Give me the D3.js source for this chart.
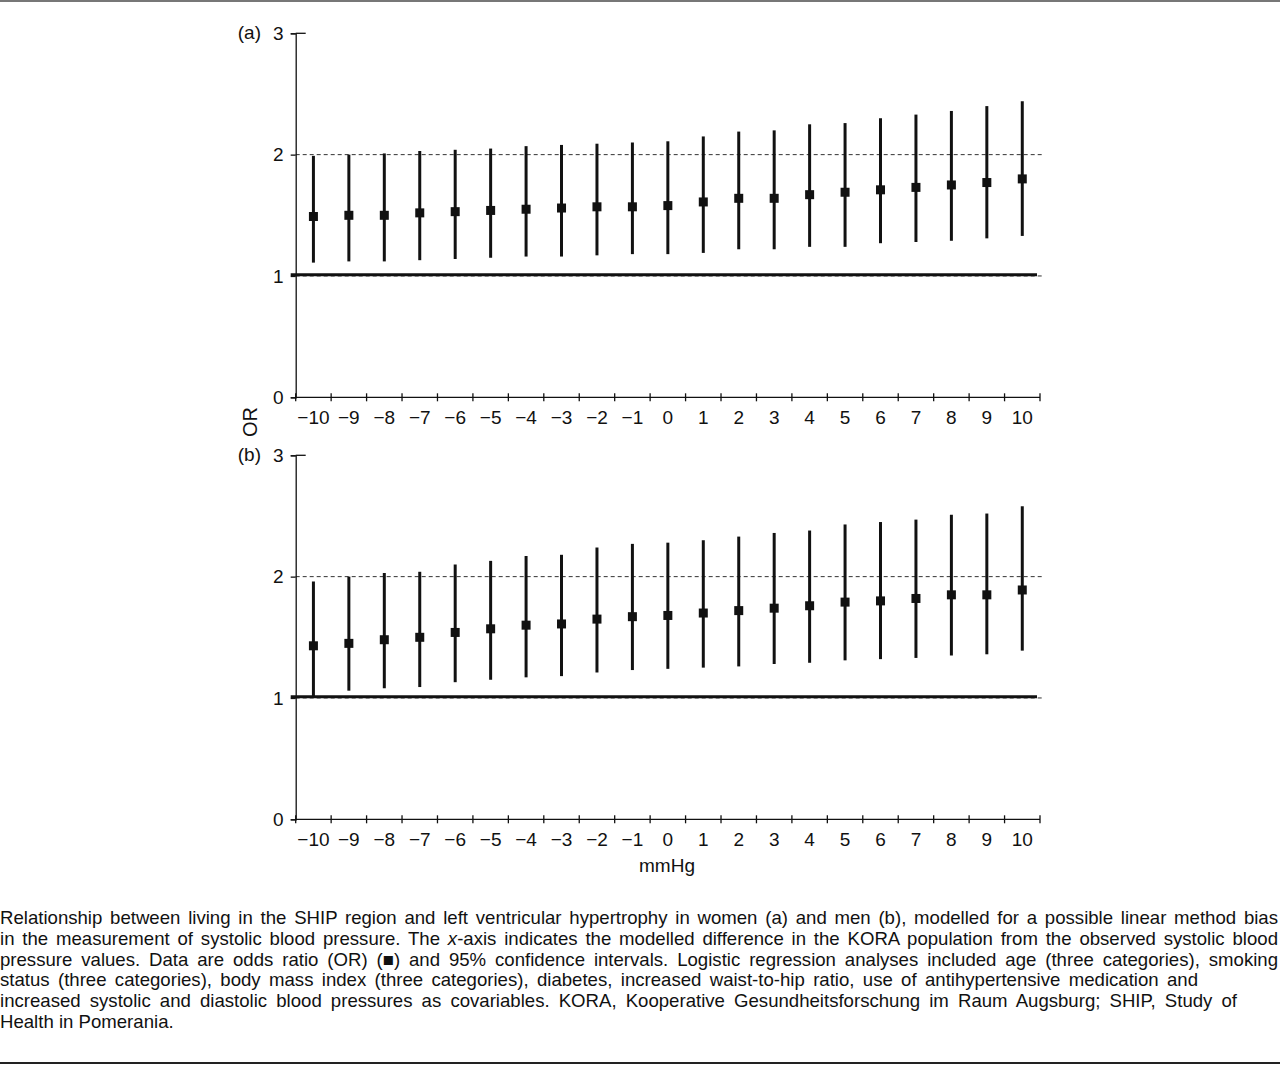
<!DOCTYPE html>
<html>
<head>
<meta charset="utf-8">
<script src="https://cdn.jsdelivr.net/npm/d3@7"></script>
<style>
  html, body { margin: 0; padding: 0; background: #fff; }
  svg { display: block; font-family: "Liberation Sans", Arial, sans-serif; }
</style>
</head>
<body>
<svg id="chart" width="1280" height="1065"></svg>
<script>
'use strict';

// modelled difference in mmHg (x categories)
var mmHg = [-10, -9, -8, -7, -6, -5, -4, -3, -2, -1, 0, 1, 2, 3, 4, 5, 6, 7, 8, 9, 10];
var yTicks = [0, 1, 2, 3];
var refLines = [1, 2];

// (a) women
var womenOR = [1.49, 1.50, 1.50, 1.52, 1.53, 1.54, 1.55, 1.56, 1.57, 1.57, 1.58, 1.61, 1.64, 1.64, 1.67, 1.69, 1.71, 1.73, 1.75, 1.77, 1.80];
var womenLo = [1.11, 1.12, 1.12, 1.13, 1.14, 1.15, 1.16, 1.16, 1.17, 1.18, 1.18, 1.19, 1.22, 1.22, 1.24, 1.24, 1.27, 1.28, 1.29, 1.31, 1.33];
var womenHi = [1.99, 2.00, 2.01, 2.03, 2.04, 2.05, 2.07, 2.08, 2.09, 2.10, 2.11, 2.15, 2.19, 2.20, 2.25, 2.26, 2.30, 2.33, 2.36, 2.40, 2.44];

// (b) men
var menOR = [1.43, 1.45, 1.48, 1.50, 1.54, 1.57, 1.60, 1.61, 1.65, 1.67, 1.68, 1.70, 1.72, 1.74, 1.76, 1.79, 1.80, 1.82, 1.85, 1.85, 1.89];
var menLo = [1.01, 1.06, 1.08, 1.09, 1.13, 1.15, 1.17, 1.18, 1.21, 1.23, 1.24, 1.25, 1.26, 1.28, 1.29, 1.31, 1.32, 1.33, 1.35, 1.36, 1.39];
var menHi = [1.96, 2.00, 2.03, 2.04, 2.10, 2.13, 2.17, 2.18, 2.24, 2.27, 2.28, 2.30, 2.33, 2.36, 2.38, 2.43, 2.45, 2.47, 2.51, 2.52, 2.58];

var panelLabels = ['(a)', '(b)'];

// caption, one entry per printed line; segments flagged italic where needed
var captionLines = [
  [['Relationship between living in the SHIP region and left ventricular hypertrophy in women (a) and men (b), modelled for a possible linear method bias']],
  [['in the measurement of systolic blood pressure. The '], ['x', true], ['-axis indicates the modelled difference in the KORA population from the observed systolic blood']],
  [['pressure values. Data are odds ratio (OR) (\u25A0) and 95% confidence intervals. Logistic regression analyses included age (three categories), smoking']],
  [['status (three categories), body mass index (three categories), diabetes, increased waist-to-hip ratio, use of antihypertensive medication and']],
  [['increased systolic and diastolic blood pressures as covariables. KORA, Kooperative Gesundheitsforschung im Raum Augsburg; SHIP, Study of']],
  [['Health in Pomerania.']]
];
var captionWidths = [1278, 1278, 1278, 1198, 1237, null];

var ink = '#111';
var svg = d3.select('#chart');

// shared x scale: one band per mmHg step, ticks on band edges
var x = d3.scaleBand()
          .domain(mmHg)
          .range([295.7, 1040])
          .padding(0);

var panels = [
  {label: panelLabels[0], or: womenOR, lo: womenLo, hi: womenHi, top: 33.3, bottom: 397.3},
  {label: panelLabels[1], or: menOR, lo: menLo, hi: menHi, top: 455.3, bottom: 819.3}
];

panels.forEach(function(p) {
  var y = d3.scaleLinear().domain([0, 3]).range([p.bottom, p.top]);
  var g = svg.append('g');
  var x0 = x.range()[0], x1 = x.range()[1];

  // dashed reference lines at OR = 1 and 2
  g.selectAll('line.ref')
   .data(refLines).enter()
     .append('line')
     .attr('class', 'ref')
     .attr('x1', x0).attr('x2', x1 + 3)
     .attr('y1', function(d) { return y(d); })
     .attr('y2', function(d) { return y(d); })
     .attr('stroke', '#333')
     .attr('stroke-width', 1)
     .attr('stroke-dasharray', '4,3');

  // heavy line of no effect, drawn just above the dashed one
  g.append('line')
   .attr('x1', x0 - 5).attr('x2', x1 - 3)
   .attr('y1', y(1.01)).attr('y2', y(1.01))
   .attr('stroke', ink)
   .attr('stroke-width', 3);

  // y axis
  var yAxis = g.append('g')
               .attr('transform', 'translate(' + x0 + ',0)')
               .call(d3.axisLeft(y).tickValues(yTicks).tickSize(5).tickPadding(7).tickFormat(d3.format('d')));
  yAxis.select('.domain').attr('stroke', ink).attr('stroke-width', 1.3);
  yAxis.selectAll('.tick line').attr('stroke', ink).attr('stroke-width', 1.3);
  yAxis.selectAll('.tick text')
       .attr('fill', ink)
       .style('font-size', '19px')
       .style('font-family', '"Liberation Sans", Arial, sans-serif');
  // small inward tick at the top value
  g.append('line')
   .attr('x1', x0).attr('x2', x0 + 10)
   .attr('y1', y(3)).attr('y2', y(3))
   .attr('stroke', ink).attr('stroke-width', 1.3);

  // x axis with crossing ticks on the band edges
  var xAxis = g.append('g')
               .attr('transform', 'translate(0,' + y(0) + ')');
  xAxis.append('line')
       .attr('x1', x0).attr('x2', x1)
       .attr('stroke', ink).attr('stroke-width', 1.3);
  var edges = mmHg.map(function(d) { return x(d); }).concat([x1]);
  xAxis.selectAll('line.tick')
       .data(edges).enter()
         .append('line')
         .attr('class', 'tick')
         .attr('x1', function(d) { return d; }).attr('x2', function(d) { return d; })
         .attr('y1', -4).attr('y2', 4)
         .attr('stroke', ink).attr('stroke-width', 1.3);
  xAxis.selectAll('text')
       .data(mmHg).enter()
         .append('text')
         .attr('x', function(d) { return x(d) + x.bandwidth() / 2; })
         .attr('y', 27)
         .attr('text-anchor', 'middle')
         .attr('fill', ink)
         .style('font-size', '19px')
         .text(function(d) { return d < 0 ? '\u2212' + Math.abs(d) : d; });

  // panel label
  g.append('text')
   .attr('x', 261)
   .attr('y', y(3) + 6)
   .attr('text-anchor', 'end')
   .attr('fill', ink)
   .style('font-size', '19px')
   .text(p.label);

  // confidence intervals
  g.selectAll('line.ci')
   .data(mmHg).enter()
     .append('line')
     .attr('class', 'ci')
     .attr('x1', function(d) { return x(d) + x.bandwidth() / 2; })
     .attr('x2', function(d) { return x(d) + x.bandwidth() / 2; })
     .attr('y1', function(d, i) { return y(p.lo[i]); })
     .attr('y2', function(d, i) { return y(p.hi[i]); })
     .attr('stroke', ink)
     .attr('stroke-width', 3);

  // odds ratio squares
  var s = 9;
  g.selectAll('rect.or')
   .data(mmHg).enter()
     .append('rect')
     .attr('class', 'or')
     .attr('x', function(d) { return x(d) + x.bandwidth() / 2 - s / 2; })
     .attr('y', function(d, i) { return y(p.or[i]) - s / 2; })
     .attr('width', s)
     .attr('height', s)
     .attr('fill', ink);
});

// shared axis titles
svg.append('text')
   .attr('transform', 'translate(257,422) rotate(-90)')
   .attr('text-anchor', 'middle')
   .attr('fill', ink)
   .style('font-size', '20px')
   .text('OR');

svg.append('text')
   .attr('x', 667)
   .attr('y', 872)
   .attr('text-anchor', 'middle')
   .attr('fill', ink)
   .style('font-size', '19px')
   .text('mmHg');

// rules above and below
svg.append('line')
   .attr('x1', 0).attr('x2', 1280).attr('y1', 1).attr('y2', 1)
   .attr('stroke', '#777').attr('stroke-width', 2);
svg.append('line')
   .attr('x1', 0).attr('x2', 1280).attr('y1', 1063).attr('y2', 1063)
   .attr('stroke', '#222').attr('stroke-width', 2);

// caption, stretched by word spacing like the typeset original
var cap = svg.append('g').attr('fill', ink).style('font-size', '18.6px');
captionLines.forEach(function(segs, i) {
  var t = cap.append('text')
             .attr('x', 0)
             .attr('y', 924 + i * 20.8);
  segs.forEach(function(sg) {
    t.append('tspan')
     .style('font-style', sg[1] ? 'italic' : null)
     .text(sg[0]);
  });
  if (captionWidths[i]) {
    var full = segs.map(function(sg) { return sg[0]; }).join('');
    var spaces = full.split(' ').length - 1;
    var w = t.node().getComputedTextLength();
    t.attr('word-spacing', (captionWidths[i] - w) / spaces);
  }
});
</script>
</body>
</html>
